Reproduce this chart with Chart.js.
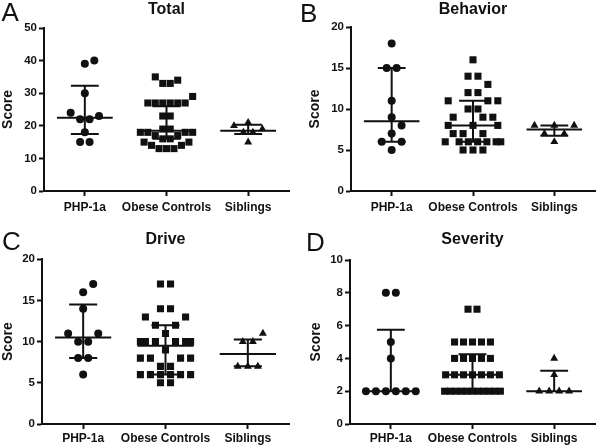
<!DOCTYPE html>
<html><head><meta charset="utf-8">
<script src="https://cdn.jsdelivr.net/npm/chart.js@4"></script>
<style>
html,body{margin:0;padding:0;background:#fff;}
body{width:600px;height:447px;position:relative;overflow:hidden;font-family:'Liberation Sans',Arial,sans-serif;}
canvas{position:absolute;}
.letter{position:absolute;font-size:26px;line-height:26px;color:#111;font-family:'Liberation Sans',Arial,sans-serif;}
</style></head><body>
<canvas id="cA" width="300" height="223" style="left:0;top:0;width:300px;height:223px"></canvas>
<canvas id="cB" width="300" height="223" style="left:300px;top:0;width:300px;height:223px"></canvas>
<canvas id="cC" width="300" height="222" style="left:0;top:225px;width:300px;height:222px"></canvas>
<canvas id="cD" width="300" height="222" style="left:300px;top:225px;width:300px;height:222px"></canvas>
<div class="letter" style="left:1.5px;top:-1.4px">A</div>
<div class="letter" style="left:300px;top:-0.1px">B</div>
<div class="letter" style="left:2px;top:228.3px">C</div>
<div class="letter" style="left:306px;top:228.6px">D</div>
<script>
const categories = ['PHP-1a', 'Obese Controls', 'Siblings'];

// Panel A: Total
const totalPHP = [40, 39, 30, 24, 23, 22, 22, 18, 15, 15];
const totalObese = [35, 34, 33, 33, 29, 27, 27, 27, 27, 27, 27, 23, 23, 19, 19, 18, 18, 18, 18, 17, 17, 16, 16, 15, 15, 14, 14, 13, 13, 13];
const totalSib = [21, 20, 19, 18, 18, 15];
const totalMedian = [22.5, 18.5, 18.5];
const totalQ1 = [17.5, 16, 17.5];
const totalQ3 = [32.3, 26, 20.3];

// Panel B: Behavior
const behaviorPHP = [18, 15, 15, 11, 9, 8, 7, 6, 6, 5];
const behaviorObese = [16, 14, 14, 13, 12, 12, 11, 11, 11, 10, 10, 9, 9, 9, 8, 8, 8, 7, 7, 7, 6, 6, 6, 6, 6, 6, 6, 5, 5, 5];
const behaviorSib = [8, 8, 8, 7, 7, 6];
const behaviorMedian = [8.5, 8, 7.5];
const behaviorQ1 = [6, 6, 6.75];
const behaviorQ3 = [15, 11, 8];

// Panel C: Drive
const drivePHP = [17, 16, 14, 11, 11, 10, 10, 8, 8, 6];
const driveObese = [17, 17, 14, 14, 13, 13, 12, 12, 11, 10, 10, 10, 10, 10, 10, 9, 8, 8, 8, 8, 7, 7, 6, 6, 6, 6, 6, 6, 5, 5];
const driveSib = [11, 10, 10, 7, 7, 7];
const driveMedian = [10.5, 9.5, 8.5];
const driveQ1 = [8, 6, 7];
const driveQ3 = [14.5, 12, 10.25];

// Panel D: Severity
const severityPHP = [8, 8, 5, 4, 2, 2, 2, 2, 2, 2];
const severityObese = [7, 7, 5, 5, 5, 5, 5, 4, 4, 4, 4, 4, 3, 3, 3, 3, 3, 3, 3, 2, 2, 2, 2, 2, 2, 2, 2, 2, 2, 2];
const severitySib = [4, 3, 2, 2, 2, 2];
const severityMedian = [2, 3, 2];
const severityQ1 = [2, 2, 2];
const severityQ3 = [5.75, 4.25, 3.25];

const yMaxes = [50, 20, 20, 10];
const ySteps = [10, 5, 5, 2];
const titles = ['Total', 'Behavior', 'Drive', 'Severity'];

// ---------- styling / layout ----------
const FONT = "'Liberation Sans', Arial, sans-serif";
const INK = '#111';
const PX_PER_CAT = 82;
const PLOT_H = 164;
const MAX_HALF = 28;
const MED_HALF = 28 / PX_PER_CAT;
const CAP_HALF = 14 / PX_PER_CAT;
const markers = [
  { style: 'circle', radius: 4 },
  { style: 'rect', radius: 5 },
  { style: 'triangle', radius: 4.6 }
];

// spread points of equal / nearby value sideways (beeswarm-like), in pixels
function jitter(values, pxPerUnit, sx, sy) {
  const placed = [];
  const offs = new Array(values.length);
  const uniq = [...new Set(values)].sort((a, b) => a - b);
  for (const v of uniq) {
    const idx = [];
    values.forEach((w, i) => { if (w === v) idx.push(i); });
    const k = idx.length;
    const y = v * pxPerUnit;
    const sp = k > 1 ? Math.min(sx, 2 * MAX_HALF / (k - 1)) : sx;
    const h = sp / 2;
    const cost = (x, row) => {
      let c = 0;
      for (const p of placed) {
        const ox = sx - Math.abs(x - p.x), oy = sy - Math.abs(y - p.y);
        if (ox > 0 && oy > 0) c += ox * oy;
      }
      for (const q of row) {
        const ox = sp - Math.abs(x - q);
        if (ox > 0) c += ox * sy;
      }
      return c;
    };
    const row = [];
    if (k % 2 === 1) {
      let best = 0, bc = Infinity;
      for (let m = 0; m * h <= MAX_HALF + 1e-9; m++) {
        for (const x of (m ? [m * h, -m * h] : [0])) {
          const c = cost(x, row);
          if (c < bc - 1e-9) { bc = c; best = x; }
        }
      }
      row.push(best);
    }
    while (row.length < k) {
      let best = h, bc = Infinity;
      for (let m = 1; m * h <= MAX_HALF + 1e-9; m++) {
        const a = m * h;
        const c = cost(a, row) + cost(-a, row) + (2 * a < sp ? (sp - 2 * a) * sy : 0);
        if (c < bc - 1e-9) { bc = c; best = a; }
      }
      row.push(best, -best);
    }
    idx.forEach((i, j) => { offs[i] = row[j]; });
    row.forEach(x => placed.push({ x, y }));
  }
  return offs;
}

function statsData(med, q1, q3) {
  const pts = [];
  med.forEach((m, i) => {
    pts.push({ x: i - MED_HALF, y: m }, { x: i + MED_HALF, y: m }, { x: i, y: null });
    pts.push({ x: i, y: q1[i] }, { x: i, y: q3[i] }, { x: i, y: null });
    pts.push({ x: i - CAP_HALF, y: q3[i] }, { x: i + CAP_HALF, y: q3[i] }, { x: i, y: null });
    pts.push({ x: i - CAP_HALF, y: q1[i] }, { x: i + CAP_HALF, y: q1[i] }, { x: i, y: null });
  });
  return pts;
}

const panels = [
  { id: 'cA', groups: [totalPHP, totalObese, totalSib], med: totalMedian, q1: totalQ1, q3: totalQ3,
    padL: 0, padR: 11, yW: 44, tTop: 0, tBot: 8.8, xH: 32, xPad: 4, sx: [9.5, 7.5, 9.5], sy: 7 },
  { id: 'cB', groups: [behaviorPHP, behaviorObese, behaviorSib], med: behaviorMedian, q1: behaviorQ1, q3: behaviorQ3,
    padL: 7, padR: 2.3, yW: 44, tTop: 0, tBot: 7.8, xH: 32, xPad: 4, sx: [10, 10, 10], sy: 8.5 },
  { id: 'cC', groups: [drivePHP, driveObese, driveSib], med: driveMedian, q1: driveQ1, q3: driveQ3,
    padL: 0, padR: 11, yW: 42, tTop: 5.4, tBot: 9.7, xH: 23, xPad: 2.7, sx: [10, 10, 10], sy: 8.5 },
  { id: 'cD', groups: [severityPHP, severityObese, severitySib], med: severityMedian, q1: severityQ1, q3: severityQ3,
    padL: 8, padR: 4, yW: 42, tTop: 5.4, tBot: 10.4, xH: 23, xPad: 2.7, sx: [10, 9, 10], sy: 8.5 }
];

panels.forEach((p, pi) => {
  const pxPerUnit = PLOT_H / yMaxes[pi];
  const datasets = [{
    type: 'scatter',
    data: statsData(p.med, p.q1, p.q3),
    showLine: true,
    spanGaps: false,
    borderColor: INK,
    borderWidth: 2,
    borderCapStyle: 'butt',
    pointRadius: 0,
    fill: false
  }];
  p.groups.forEach((vals, gi) => {
    const m = markers[gi];
    const offs = jitter(vals, pxPerUnit, p.sx[gi], p.sy);
    datasets.push({
      type: 'scatter',
      data: vals.map((v, k) => ({ x: gi + offs[k] / PX_PER_CAT, y: v })),
      pointStyle: m.style,
      pointRadius: m.radius,
      backgroundColor: INK,
      borderColor: INK,
      borderWidth: 0,
      showLine: false
    });
  });

  new Chart(document.getElementById(p.id), {
    type: 'scatter',
    data: { datasets },
    options: {
      responsive: false,
      animation: false,
      events: [],
      layout: { padding: { left: p.padL, right: p.padR, top: 0, bottom: 0 } },
      plugins: {
        legend: { display: false },
        tooltip: { enabled: false },
        title: {
          display: true, text: titles[pi], color: INK, fullSize: false,
          font: { family: FONT, size: 16, weight: 'bold' },
          padding: { top: p.tTop, bottom: p.tBot }
        }
      },
      scales: {
        x: {
          type: 'linear', min: -0.5, max: 2.5,
          afterBuildTicks: s => { s.ticks = [0, 1, 2].map(v => ({ value: v })); },
          afterFit: s => { s.height = p.xH; },
          ticks: {
            autoSkip: false, maxRotation: 0, padding: p.xPad, color: INK,
            font: { family: FONT, size: 12, weight: 'bold' },
            callback: v => categories[v]
          },
          grid: { display: true, drawOnChartArea: false, drawTicks: true, tickLength: 5, tickWidth: 2, color: INK },
          border: { display: true, color: INK, width: 2 }
        },
        y: {
          min: 0, max: yMaxes[pi],
          afterFit: s => { s.width = p.yW; },
          ticks: {
            stepSize: ySteps[pi], padding: 2, color: INK,
            font: { family: FONT, size: 11.5, weight: 'bold' }
          },
          title: {
            display: true, text: 'Score', color: INK,
            font: { family: FONT, size: 14, weight: 'bold' },
            padding: { top: 0, bottom: 0 }
          },
          grid: { display: true, drawOnChartArea: false, drawTicks: true, tickLength: 5, tickWidth: 2, color: INK },
          border: { display: true, color: INK, width: 2 }
        }
      }
    }
  });
});
</script>
</body></html>
